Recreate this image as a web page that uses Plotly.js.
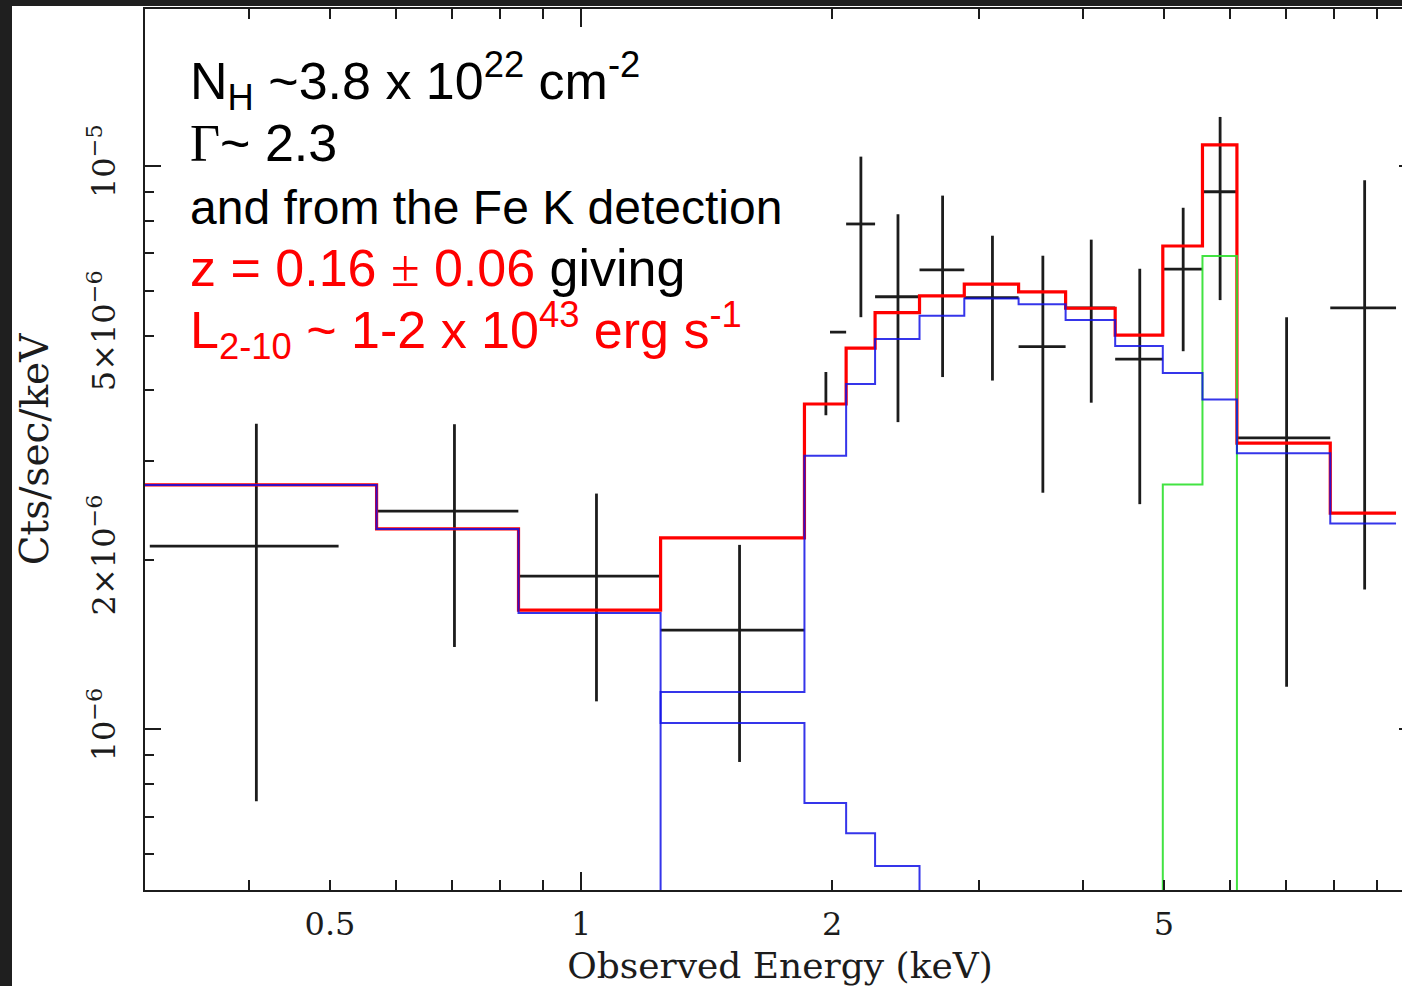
<!DOCTYPE html>
<html>
<head>
<meta charset="utf-8">
<script src="https://cdn.plot.ly/plotly-3.0.1.min.js"></script>
<style>
  html, body { margin: 0; padding: 0; background: #1f1f1f; overflow: hidden; width: 1402px; height: 986px; }
  #plot { position: absolute; left: 12px; top: 6px; width: 1418px; height: 980px; }
</style>
</head>
<body>
<div id="plot"></div>
<script>
// Model bin edges (keV)
const binEdges = [0.3, 0.5686, 0.8414, 1.2456, 1.853, 2.079, 2.252, 2.546, 2.881,
                  3.347, 3.811, 4.37, 4.984, 5.561, 6.116, 7.914, 9.49];

// Total folded model (Cts/sec/keV), one value per bin
const totalModel = [2.715e-6, 2.268e-6, 1.628e-6, 2.186e-6, 3.78e-6, 4.75e-6, 5.49e-6, 5.88e-6,
                    6.17e-6, 5.98e-6, 5.59e-6, 5.01e-6, 7.21e-6, 1.09e-5, 3.22e-6, 2.42e-6];

// Absorbed power law component
const absorbedPL = [null, null, 2.1e-8, 1.165e-6, 3.06e-6, 4.10e-6, 4.93e-6, 5.42e-6,
                    5.82e-6, 5.68e-6, 5.33e-6, 4.79e-6, 4.29e-6, 3.85e-6, 3.09e-6, 2.32e-6];

// Unabsorbed soft power law component
const softPL = [2.715e-6, 2.268e-6, 1.608e-6, 1.026e-6, 7.40e-7, 6.54e-7, 5.72e-7, 4.6e-7,
                null, null, null, null, null, null, null, null];

// Fe K line (Gaussian) component
const feLine = [null, null, null, null, null, null, null, null, null, null, null,
                1e-9, 2.72e-6, 6.92e-6, 1e-9, null];

// Binned spectrum: bin centre, half width, rate, 1-sigma error
const dataEnergy = [0.408, 0.705, 1.0435, 1.549, 1.966, 2.1655, 2.399, 2.7135,
                    3.114, 3.579, 4.0905, 4.677, 5.2725, 5.8385, 7.015, 8.702];
const dataHalfWidth = [0.104, 0.136, 0.202, 0.304, 0.113, 0.0865, 0.147, 0.1675,
                       0.233, 0.232, 0.2795, 0.307, 0.2885, 0.2775, 0.899, 0.788];
const dataRate = [2.115e-6, 2.44e-6, 1.871e-6, 1.5e-6, 5.07e-6, 7.89e-6, 5.86e-6, 6.54e-6,
                  5.84e-6, 4.78e-6, 5.6e-6, 4.54e-6, 6.56e-6, 9.0e-6, 3.29e-6, 5.6e-6];
const dataRateErr = [1.37e-6, 1.04e-6, 0.75e-6, 0.625e-6, 1.46e-6, 2.5e-6, 2.35e-6, 2.32e-6,
                     1.68e-6, 2.15e-6, 1.8e-6, 2.03e-6, 1.87e-6, 3.22e-6, 2.1e-6, 3.83e-6];

// Axis ticks
const xTickVals = [0.4, 0.5, 0.6, 0.7, 0.8, 0.9, 1, 2, 3, 4, 5, 6, 7, 8, 9, 10];
const xTickText = ['', '0.5', '', '', '', '', '1', '2', '', '', '5', '', '', '', '', ''];
const xDecades = [1, 10];
const yTickVals = [6e-7, 7e-7, 8e-7, 9e-7, 1e-6, 2e-6, 3e-6, 4e-6, 5e-6, 6e-6, 7e-6, 8e-6, 9e-6, 1e-5];
const yTickText = ['', '', '', '', '10<sup>\u22126</sup>', '2\u00d710<sup>\u22126</sup>', '', '',
                   '5\u00d710<sup>\u22126</sup>', '', '', '', '', '10<sup>\u22125</sup>'];
const yDecades = [1e-6, 1e-5];

const xRange = [Math.log10(0.3), 1];
const yRange = [-6.2853, -4.7213];

// Step-line helper: hold each bin value across the bin
function steps(edges, vals) {
  return { x: edges.slice(), y: vals.concat([vals[vals.length - 1]]) };
}

const tot = steps(binEdges, totalModel);
const abs = steps(binEdges, absorbedPL);
const soft = steps(binEdges, softPL);
const fe = steps(binEdges, feLine);

const ink = '#1c1c1c';
const blue = '#1212e6';
const traces = [
  {
    type: 'scatter', mode: 'markers', x: dataEnergy, y: dataRate,
    marker: { size: 1, color: 'rgba(0,0,0,0)' },
    error_x: { type: 'data', array: dataHalfWidth, visible: true, color: ink, thickness: 2.8, width: 0 },
    error_y: { type: 'data', array: dataRateErr, visible: true, color: ink, thickness: 2.8, width: 0 },
    hoverinfo: 'skip'
  },
  { type: 'scatter', mode: 'lines', x: tot.x, y: tot.y, line: { shape: 'hv', color: '#ff0000', width: 3.2 }, hoverinfo: 'skip' },
  { type: 'scatter', mode: 'lines', x: fe.x, y: fe.y, line: { shape: 'hv', color: '#2ee02e', width: 2 }, opacity: 0.9, hoverinfo: 'skip' },
  { type: 'scatter', mode: 'lines', x: soft.x, y: soft.y, line: { shape: 'hv', color: blue, width: 2 }, opacity: 0.85, hoverinfo: 'skip' },
  { type: 'scatter', mode: 'lines', x: abs.x, y: abs.y, line: { shape: 'hv', color: blue, width: 2 }, opacity: 0.85, hoverinfo: 'skip' },
  // carriers for the long decade ticks
  { type: 'scatter', mode: 'markers', x: [], y: [], xaxis: 'x2', yaxis: 'y', hoverinfo: 'skip' },
  { type: 'scatter', mode: 'markers', x: [], y: [], xaxis: 'x', yaxis: 'y2', hoverinfo: 'skip' }
];

const tickFont = { family: 'DejaVu Serif', size: 32, color: ink };

const W = 1418, H = 980;
const mL = 133, mT = 3, pW = 1270, pH = 881;

// text panel (x/y in pixels of the plotting area)
function px(x) { return (x - 145) / pW; }
function py(y) { return (890 - y) / pH; }

const big = 'font-size:52px';
const serif = 'font-family:\'Liberation Serif\'';
const panelText =
  '<span style="' + big + '">N<sub>H</sub> ~3.8 x 10<sup>22</sup> cm<sup>-2</sup></span><br>' +
  '<span style="' + big + '"><span style="' + serif + '">\u0393</span>~ 2.3</span><br>' +
  'and from the Fe K detection<br>' +
  '<span style="' + big + '"><span style="color:#ff0000">z = 0.16 <span style="' + serif + '">\u00b1</span> 0.06</span> giving</span><br>' +
  '<span style="' + big + ';color:#ff0000">L<sub>2-10</sub> ~ 1-2 x 10<sup>43</sup> erg s<sup>-1</sup></span>';

const layout = {
  width: W, height: H,
  margin: { l: mL, r: W - mL - pW, t: mT, b: H - mT - pH, pad: 0 },
  paper_bgcolor: '#ffffff', plot_bgcolor: '#ffffff',
  showlegend: false,
  xaxis: {
    type: 'log', range: xRange, tickmode: 'array', tickvals: xTickVals, ticktext: xTickText,
    ticks: 'inside', ticklen: 10, tickwidth: 2, tickcolor: ink,
    showline: true, linewidth: 2, linecolor: ink, mirror: 'ticks',
    showgrid: false, zeroline: false, tickfont: tickFont, ticklabelstandoff: 5,
    title: { text: 'Observed Energy (keV)', font: { family: 'DejaVu Serif', size: 36, color: ink }, standoff: 14 }
  },
  xaxis2: {
    type: 'log', range: xRange, overlaying: 'x', anchor: 'y', side: 'bottom',
    tickmode: 'array', tickvals: xDecades, ticks: 'inside', ticklen: 18, tickwidth: 2, tickcolor: ink,
    showticklabels: false, showline: false, mirror: 'ticks', showgrid: false, zeroline: false
  },
  yaxis: {
    type: 'log', range: yRange, tickmode: 'array', tickvals: yTickVals, ticktext: yTickText,
    ticks: 'inside', ticklen: 9, tickwidth: 2, tickcolor: ink, tickangle: -90,
    showline: true, linewidth: 2, linecolor: ink, mirror: 'ticks',
    showgrid: false, zeroline: false, tickfont: tickFont, ticklabelstandoff: 15,
    title: { text: 'Cts/sec/keV', font: { family: 'DejaVu Serif', size: 39, color: ink }, standoff: 26 }
  },
  yaxis2: {
    type: 'log', range: yRange, overlaying: 'y', anchor: 'x', side: 'left',
    tickmode: 'array', tickvals: yDecades, ticks: 'inside', ticklen: 16, tickwidth: 2, tickcolor: ink,
    showticklabels: false, showline: false, mirror: 'ticks', showgrid: false, zeroline: false
  },
  shapes: [
    // backing of the text panel
    { type: 'rect', xref: 'paper', yref: 'paper', x0: px(172), x1: px(830), y0: py(372), y1: py(40),
      fillcolor: '#ffffff', line: { width: 0 }, layer: 'above' }
  ],
  annotations: [
    { xref: 'paper', yref: 'paper', x: px(189), y: py(43), xanchor: 'left', yanchor: 'top',
      align: 'left', showarrow: false, borderpad: 0, text: panelText,
      font: { family: 'Liberation Sans', size: 48, color: '#000000' } }
  ]
};

Plotly.newPlot('plot', traces, layout, { staticPlot: true, displayModeBar: false });
</script>
</body>
</html>
